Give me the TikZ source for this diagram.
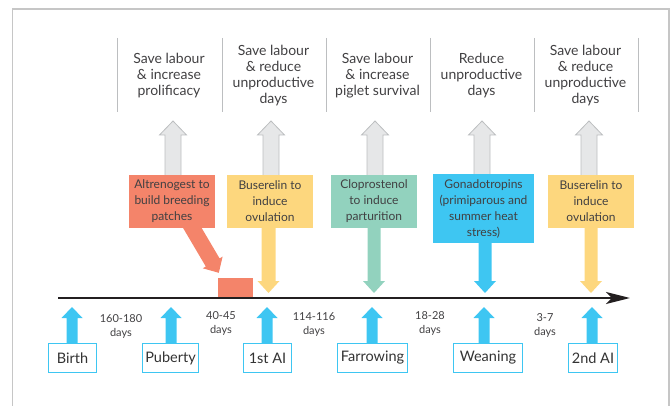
\documentclass[tikz,border=0pt]{standalone}
\usepackage{fontspec}
\setmainfont{Lato}
\usetikzlibrary{calc,arrows.meta,backgrounds}

\definecolor{ink}{HTML}{414042}
\definecolor{inkdark}{HTML}{333333}
\definecolor{salmon}{HTML}{F4846A}
\definecolor{butter}{HTML}{FDD77E}
\definecolor{mint}{HTML}{92D2BE}
\definecolor{cyanb}{HTML}{3EC6F2}
\definecolor{arrowfill}{HTML}{E6E7E8}
\definecolor{arrowedge}{HTML}{BCBEC0}
\definecolor{framegray}{HTML}{C6C6C6}
\definecolor{linedark}{HTML}{231F20}

% Block arrow: #1 foot, #2 tip, #3 shaft half-width, #4 head half-width,
% #5 head length, #6 path style
\newcommand\blockarrow[6]{%
  \coordinate (ba-h) at ($(#2)!#5!(#1)$);
  \path[#6] ($(#1)!#3!90:(#2)$) -- ($(ba-h)!#3!-90:(#1)$)
    -- ($(ba-h)!#4!-90:(#1)$) -- (#2) -- ($(ba-h)!#4!90:(#1)$)
    -- ($(ba-h)!#3!90:(#1)$) -- ($(#1)!#3!-90:(#2)$) -- cycle;
}

\begin{document}
\begin{tikzpicture}[x=1pt,y=-1pt,
  toptext/.style={align=center,font=\fontsize{14}{16}\selectfont,text=ink,inner sep=0pt},
  drugbox/.style={align=center,font=\fontsize{12}{16}\selectfont,text=ink,inner sep=0pt,minimum height=53pt},
  eventbox/.style={draw=cyanb,line width=1.3pt,fill=white,font=\fontsize{14.5}{16}\selectfont,text=inkdark,minimum height=29pt,inner sep=0pt},
  interval/.style={align=center,font=\fontsize{11}{14}\selectfont,text=ink,inner sep=0pt},
  colrule/.style={draw=arrowedge,line width=1pt},
  benefit/.style={fill=arrowfill,draw=arrowedge,line width=0.8pt},
]
\useasboundingbox (0,0) rectangle (672,406);

% outer frame (open at the bottom)
\draw[framegray,line width=1.2pt] (12.7,406) -- (12.7,9) -- (669,9) -- (669,406);

% column rules between the benefit statements
\foreach \x in {117,222,326,430,534,638}
  \draw[colrule] (\x,38) -- (\x,112);

% benefit statements
\node[toptext] (top1) at (169,76) {Save labour\\\& increase\\prolificacy};
\node[toptext] (top2) at (273.5,76) {Save labour\\\& reduce\\unproductive\\days};
\node[toptext] (top3) at (377.5,76) {Save labour\\\& increase\\piglet survival};
\node[toptext] (top4) at (481.5,76) {Reduce\\unproductive\\days};
\node[toptext] (top5) at (585.5,76) {Save labour\\\& reduce\\unproductive\\days};

% treatments
\node[drugbox,fill=salmon,minimum width=86pt] (alt) at (172,201.5) {Altrenogest to\\build breeding\\patches};
\node[drugbox,fill=butter,minimum width=86pt] (bus1) at (270,201.5) {Buserelin to\\induce\\ovulation};
\node[drugbox,fill=mint,minimum width=86pt] (clo) at (374,201.5) {Cloprostenol\\to induce\\parturition};
\node[drugbox,fill=cyanb,minimum width=101pt,minimum height=69pt] (gon) at (483.5,208.5) {Gonadotropins\\(primiparous and\\summer heat\\stress)};
\node[drugbox,fill=butter,minimum width=86pt] (bus2) at (591,201.5) {Buserelin to\\induce\\ovulation};

% altrenogest feeding window on the timeline
\node[fill=salmon,minimum width=35pt,minimum height=19pt,inner sep=0pt] (patch) at (235.5,287.5) {};

% timeline
\coordinate (tl-a) at (58,298);
\coordinate (tl-b) at (630,298);
\draw[linedark,line width=2.6pt,-{Stealth[length=24pt,width=12pt,inset=6pt]}] (tl-a) -- (tl-b);

% events
\node[eventbox,minimum width=48pt] (birth) at (72.5,358) {Birth};
\node[eventbox,minimum width=56pt] (puberty) at (170.5,358) {Puberty};
\node[eventbox,minimum width=48pt] (ai1) at (267.5,358) {1st AI};
\node[eventbox,minimum width=70pt] (farrow) at (372.5,358) {Farrowing};
\node[eventbox,minimum width=69pt] (wean) at (488,358) {Weaning};
\node[eventbox,minimum width=49pt] (ai2) at (593,358) {2nd AI};

% intervals between events
\node[interval] (d1) at (121,326) {160-180\\days};
\node[interval] (d2) at (221,323.5) {40-45\\days};
\node[interval] (d3) at (314,324.5) {114-116\\days};
\node[interval] (d4) at (430,323.5) {18-28\\days};
\node[interval] (d5) at (545,325) {3-7\\days};

% tips of the benefit arrows
\coordinate (g1) at (173,121);
\coordinate (g2) at (271,121);
\coordinate (g3) at (375,121);
\coordinate (g4) at (482,121);
\coordinate (g5) at (589,121);
\coordinate (g1f) at (g1 |- alt.center);
\coordinate (g2f) at (g2 |- bus1.center);
\coordinate (g3f) at (g3 |- clo.center);
\coordinate (g4f) at (g4 |- gon.center);
\coordinate (g5f) at (g5 |- bus2.center);

% tips of the treatment arrows
\coordinate (t2) at (268.5,293);
\coordinate (t3) at (374,293);
\coordinate (t4) at (485,293);
\coordinate (t5) at (591,293);
\coordinate (t2f) at (t2 |- bus1.center);
\coordinate (t3f) at (t3 |- clo.center);
\coordinate (t4f) at (t4 |- gon.center);
\coordinate (t5f) at (t5 |- bus2.center);
\coordinate (alt-foot) at ($(alt.south)+(14,-11)$);
\coordinate (alt-tip) at ($(patch.north west)+(1,-5)$);

% tips of the event arrows
\coordinate (e1) at (72,307);
\coordinate (e2) at (171,307);
\coordinate (e3) at (267,307);
\coordinate (e4) at (372,307);
\coordinate (e5) at (484,307);
\coordinate (e6) at (592,307);
\coordinate (e1f) at (e1 |- birth.center);
\coordinate (e2f) at (e2 |- puberty.center);
\coordinate (e3f) at (e3 |- ai1.center);
\coordinate (e4f) at (e4 |- farrow.center);
\coordinate (e5f) at (e5 |- wean.center);
\coordinate (e6f) at (e6 |- ai2.center);

\begin{pgfonlayer}{background}
  % benefit arrows
  \blockarrow{g1f}{g1}{8pt}{13.5pt}{14pt}{benefit}
  \blockarrow{g2f}{g2}{8pt}{13.5pt}{14pt}{benefit}
  \blockarrow{g3f}{g3}{8pt}{13.5pt}{14pt}{benefit}
  \blockarrow{g4f}{g4}{8pt}{13.5pt}{14pt}{benefit}
  \blockarrow{g5f}{g5}{8pt}{13.5pt}{14pt}{benefit}
  % treatment arrows
  \blockarrow{alt-foot}{alt-tip}{8pt}{11.5pt}{12pt}{fill=salmon}
  \blockarrow{t2f}{t2}{7pt}{11pt}{12pt}{fill=butter}
  \blockarrow{t3f}{t3}{6.5pt}{11pt}{12pt}{fill=mint}
  \blockarrow{t4f}{t4}{6.5pt}{11pt}{12pt}{fill=cyanb}
  \blockarrow{t5f}{t5}{6.5pt}{11pt}{12pt}{fill=butter}
  % event arrows
  \blockarrow{e1f}{e1}{5.5pt}{10.5pt}{11pt}{fill=cyanb}
  \blockarrow{e2f}{e2}{5.5pt}{10.5pt}{11pt}{fill=cyanb}
  \blockarrow{e3f}{e3}{5.5pt}{10.5pt}{11pt}{fill=cyanb}
  \blockarrow{e4f}{e4}{5.5pt}{10.5pt}{11pt}{fill=cyanb}
  \blockarrow{e5f}{e5}{5.5pt}{10.5pt}{11pt}{fill=cyanb}
  \blockarrow{e6f}{e6}{5.5pt}{10.5pt}{11pt}{fill=cyanb}
\end{pgfonlayer}
\end{tikzpicture}
\end{document}
